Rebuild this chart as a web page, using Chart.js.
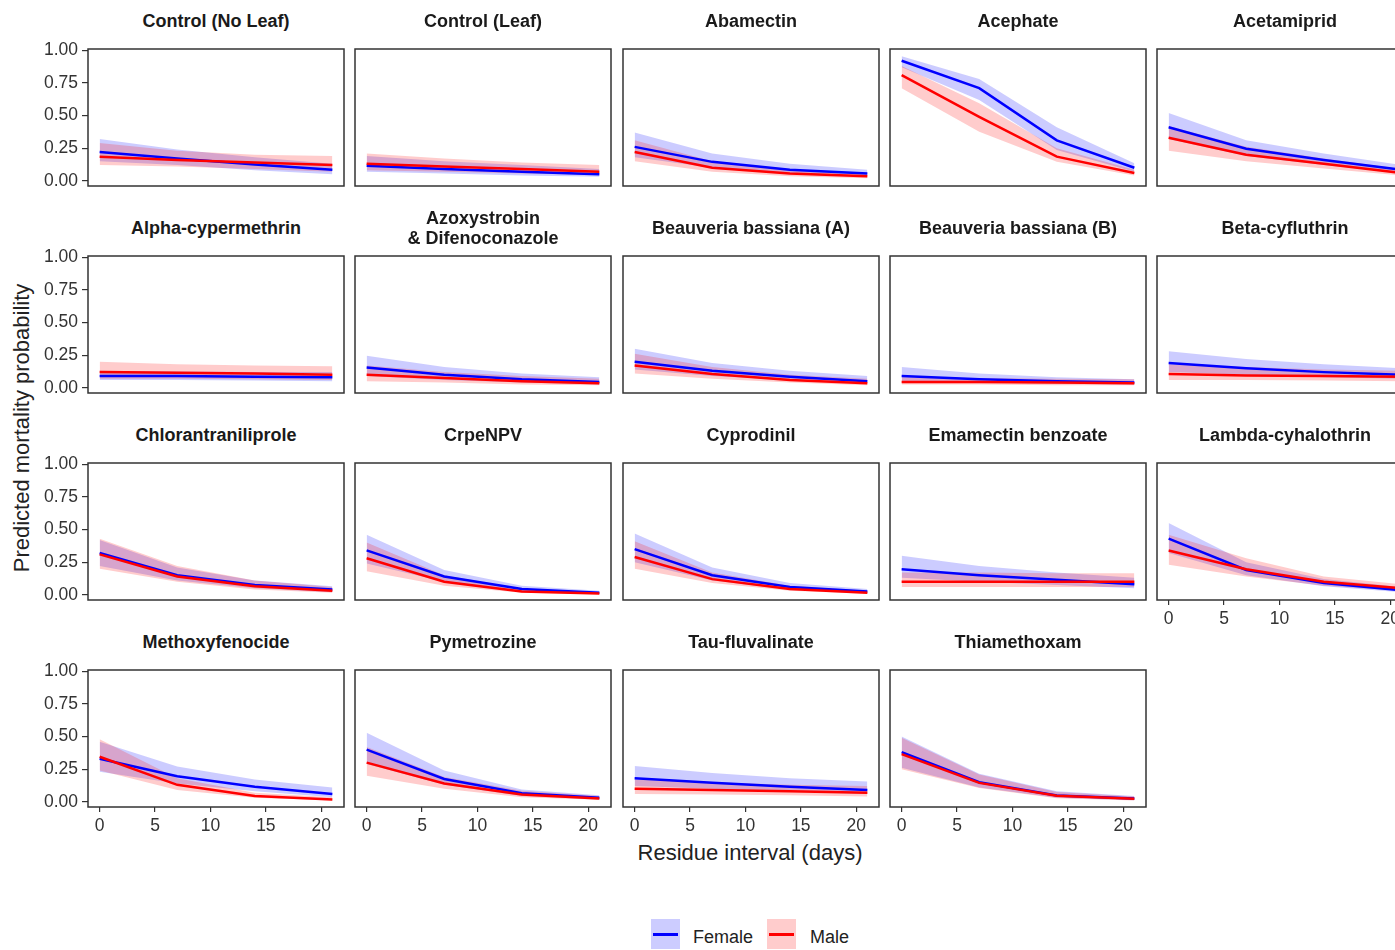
<!DOCTYPE html>
<html lang="en">
<head>
  <meta charset="UTF-8">
  <title>Predicted mortality by residue interval</title>
  <script src="https://cdn.jsdelivr.net/npm/chart.js"></script>
  <style>
    body {
      margin: 0;
      width: 1395px;
      height: 950px;
      overflow: hidden;
      position: relative;
      background: #fff;
      font-family: 'Liberation Sans', Arial, sans-serif;
      color: #1a1a1a;
    }
    .panel { position: absolute; }
    .strip {
      position: absolute;
      width: 256px;
      height: 40px;
      display: flex;
      align-items: center;
      justify-content: center;
      text-align: center;
      white-space: pre-line;
      font-weight: bold;
      font-size: 18px;
      line-height: 20px;
      color: #1a1a1a;
    }
    .axis-title {
      position: absolute;
      font-size: 22px;
      white-space: nowrap;
      color: #222;
      transform: translate(-50%, -50%);
    }
    #yTitle { left: 22px; top: 428px; transform: translate(-50%, -50%) rotate(-90deg); }
    #xTitle { left: 750px; top: 853px; }
    .key {
      position: absolute;
      top: 919px;
      width: 29px;
      height: 30px;
    }
    .key span {
      position: absolute;
      left: 2px;
      right: 2px;
      top: 14px;
      height: 3px;
    }
    .key-label {
      position: absolute;
      top: 926px;
      font-size: 18px;
      line-height: 22px;
      color: #222;
    }
  </style>
</head>
<body>
  <div id="yTitle" class="axis-title">Predicted mortality probability</div>
  <div id="xTitle" class="axis-title">Residue interval (days)</div>

  <div class="key" style="left:651px; background:#ccccff;"><span style="background:#0000ff;"></span></div>
  <div class="key-label" style="left:693px;">Female</div>
  <div class="key" style="left:767px; background:#ffcccc;"><span style="background:#ff0000;"></span></div>
  <div class="key-label" style="left:810px;">Male</div>

  <script>
    // treatments, one facet each (read left to right, top to bottom)
    const panelNames = [
      'Control (No Leaf)', 'Control (Leaf)', 'Abamectin', 'Acephate', 'Acetamiprid',
      'Alpha-cypermethrin', 'Azoxystrobin\n& Difenoconazole', 'Beauveria bassiana (A)', 'Beauveria bassiana (B)', 'Beta-cyfluthrin',
      'Chlorantraniliprole', 'CrpeNPV', 'Cyprodinil', 'Emamectin benzoate', 'Lambda-cyhalothrin',
      'Methoxyfenocide', 'Pymetrozine', 'Tau-fluvalinate', 'Thiamethoxam'
    ];
    const days = [0, 7, 14, 21];
    const xTicks = [0, 5, 10, 15, 20];
    const yTicks = [0, 0.25, 0.5, 0.75, 1];

    const femaleFit = [
      [0.22, 0.17, 0.125, 0.085], [0.115, 0.09, 0.07, 0.05], [0.26, 0.145, 0.085, 0.055], [0.92, 0.71, 0.31, 0.10], [0.41, 0.245, 0.16, 0.085],
      [0.09, 0.09, 0.085, 0.08], [0.155, 0.10, 0.065, 0.045], [0.20, 0.13, 0.085, 0.05], [0.09, 0.065, 0.05, 0.04], [0.19, 0.15, 0.12, 0.10],
      [0.32, 0.15, 0.075, 0.04], [0.34, 0.14, 0.045, 0.015], [0.35, 0.15, 0.06, 0.025], [0.195, 0.15, 0.115, 0.08], [0.43, 0.19, 0.09, 0.035],
      [0.33, 0.195, 0.115, 0.06], [0.40, 0.175, 0.065, 0.03], [0.18, 0.145, 0.115, 0.09], [0.38, 0.15, 0.048, 0.025]
    ];
    const femaleLow = [
      [0.15, 0.12, 0.08, 0.05], [0.07, 0.055, 0.04, 0.03], [0.18, 0.10, 0.06, 0.035], [0.87, 0.62, 0.235, 0.07], [0.32, 0.19, 0.12, 0.06],
      [0.06, 0.06, 0.055, 0.05], [0.09, 0.06, 0.04, 0.025], [0.14, 0.09, 0.06, 0.035], [0.05, 0.04, 0.03, 0.025], [0.12, 0.10, 0.08, 0.07],
      [0.22, 0.11, 0.05, 0.02], [0.24, 0.10, 0.03, 0.008], [0.25, 0.11, 0.04, 0.015], [0.13, 0.10, 0.075, 0.05], [0.32, 0.15, 0.065, 0.02],
      [0.23, 0.14, 0.08, 0.035], [0.29, 0.13, 0.045, 0.018], [0.12, 0.10, 0.08, 0.06], [0.26, 0.11, 0.03, 0.012]
    ];
    const femaleHigh = [
      [0.32, 0.24, 0.18, 0.13], [0.19, 0.15, 0.12, 0.09], [0.37, 0.21, 0.13, 0.085], [0.955, 0.78, 0.41, 0.135], [0.52, 0.31, 0.21, 0.12],
      [0.13, 0.125, 0.12, 0.12], [0.245, 0.16, 0.11, 0.08], [0.30, 0.19, 0.13, 0.09], [0.16, 0.11, 0.08, 0.065], [0.28, 0.22, 0.18, 0.15],
      [0.42, 0.21, 0.11, 0.065], [0.46, 0.19, 0.07, 0.03], [0.47, 0.21, 0.09, 0.045], [0.30, 0.22, 0.17, 0.13], [0.55, 0.25, 0.12, 0.06],
      [0.46, 0.27, 0.17, 0.11], [0.53, 0.24, 0.095, 0.05], [0.275, 0.22, 0.18, 0.155], [0.50, 0.215, 0.08, 0.045]
    ];
    const maleFit = [
      [0.185, 0.16, 0.14, 0.12], [0.13, 0.11, 0.09, 0.07], [0.22, 0.10, 0.055, 0.035], [0.81, 0.49, 0.185, 0.06], [0.33, 0.20, 0.13, 0.06],
      [0.12, 0.115, 0.11, 0.10], [0.10, 0.075, 0.05, 0.035], [0.17, 0.105, 0.06, 0.035], [0.045, 0.045, 0.04, 0.035], [0.105, 0.095, 0.09, 0.085],
      [0.31, 0.14, 0.065, 0.03], [0.28, 0.10, 0.025, 0.01], [0.29, 0.12, 0.045, 0.015], [0.10, 0.10, 0.10, 0.10], [0.34, 0.195, 0.10, 0.05],
      [0.345, 0.13, 0.045, 0.018], [0.30, 0.14, 0.055, 0.025], [0.10, 0.09, 0.08, 0.07], [0.365, 0.145, 0.046, 0.024]
    ];
    const maleLow = [
      [0.12, 0.11, 0.09, 0.07], [0.08, 0.07, 0.055, 0.045], [0.15, 0.07, 0.035, 0.02], [0.71, 0.375, 0.145, 0.04], [0.23, 0.15, 0.095, 0.04],
      [0.07, 0.07, 0.065, 0.06], [0.05, 0.04, 0.025, 0.02], [0.11, 0.07, 0.04, 0.02], [0.025, 0.025, 0.02, 0.02], [0.06, 0.06, 0.055, 0.05],
      [0.20, 0.10, 0.04, 0.015], [0.18, 0.07, 0.015, 0.004], [0.20, 0.09, 0.03, 0.008], [0.06, 0.06, 0.06, 0.06], [0.23, 0.14, 0.07, 0.03],
      [0.24, 0.09, 0.03, 0.01], [0.20, 0.10, 0.035, 0.015], [0.06, 0.055, 0.05, 0.04], [0.25, 0.105, 0.028, 0.01]
    ];
    const maleHigh = [
      [0.29, 0.23, 0.20, 0.19], [0.21, 0.17, 0.14, 0.12], [0.31, 0.15, 0.085, 0.06], [0.88, 0.595, 0.25, 0.085], [0.42, 0.26, 0.17, 0.09],
      [0.20, 0.18, 0.17, 0.165], [0.17, 0.12, 0.09, 0.07], [0.26, 0.16, 0.10, 0.07], [0.08, 0.075, 0.07, 0.065], [0.18, 0.16, 0.14, 0.13],
      [0.43, 0.22, 0.11, 0.06], [0.40, 0.15, 0.045, 0.02], [0.41, 0.17, 0.07, 0.03], [0.17, 0.17, 0.165, 0.165], [0.46, 0.28, 0.14, 0.08],
      [0.48, 0.18, 0.07, 0.035], [0.42, 0.19, 0.085, 0.045], [0.17, 0.15, 0.13, 0.12], [0.49, 0.21, 0.075, 0.04]
    ];

    const NCOL = 5;
    const PANEL_W = 256, PANEL_H = 137;
    const PAD = 16, Y_AXIS_W = 48, X_AXIS_H = 30;
    const tickFont = { family: "'Liberation Sans', Arial, sans-serif", size: 17.5 };

    // black frame round each panel, drawn over the data like panel.border
    const panelBox = {
      id: 'panelBox',
      afterDatasetsDraw(chart) {
        const a = chart.chartArea;
        const ctx = chart.ctx;
        ctx.save();
        ctx.strokeStyle = '#333';
        ctx.lineWidth = 1.5;
        ctx.strokeRect(a.left, a.top, a.right - a.left, a.bottom - a.top);
        ctx.restore();
      }
    };

    function points(values) {
      return days.map((d, i) => ({ x: d, y: values[i] }));
    }

    function ribbon(values, fill, color, order) {
      return {
        data: points(values), fill: fill, backgroundColor: color,
        borderWidth: 0, pointRadius: 0, order: order
      };
    }

    function line(values, color, order) {
      return {
        data: points(values), fill: false, borderColor: color,
        borderWidth: 2.5, pointRadius: 0, order: order
      };
    }

    panelNames.forEach((name, i) => {
      const row = Math.floor(i / NCOL), col = i % NCOL;
      const panelLeft = Math.round(88 + col * 267.25);
      const panelTop = 49 + row * 207;
      const showY = col === 0;
      const showX = row === 3 || (row === 2 && col === 4);
      const yw = showY ? Y_AXIS_W : 0;
      const xh = showX ? X_AXIS_H : 0;

      const strip = document.createElement('div');
      strip.className = 'strip';
      strip.style.left = panelLeft + 'px';
      strip.style.top = (panelTop - 48) + 'px';
      strip.textContent = name;
      document.body.appendChild(strip);

      const wrap = document.createElement('div');
      wrap.className = 'panel';
      wrap.style.left = (panelLeft - yw - PAD) + 'px';
      wrap.style.top = (panelTop - PAD) + 'px';
      const canvas = document.createElement('canvas');
      canvas.width = PANEL_W + yw + 2 * PAD;
      canvas.height = PANEL_H + xh + 2 * PAD;
      wrap.appendChild(canvas);
      document.body.appendChild(wrap);

      new Chart(canvas.getContext('2d'), {
        type: 'line',
        data: {
          datasets: [
            line(maleFit[i], '#ff0000', 0),
            line(femaleFit[i], '#0000ff', 1),
            ribbon(maleHigh[i], '+1', 'rgba(255,0,0,0.2)', 2),
            ribbon(maleLow[i], false, 'rgba(255,0,0,0.2)', 3),
            ribbon(femaleHigh[i], '+1', 'rgba(0,0,255,0.2)', 4),
            ribbon(femaleLow[i], false, 'rgba(0,0,255,0.2)', 5)
          ]
        },
        options: {
          responsive: false,
          animation: false,
          devicePixelRatio: 1,
          layout: { padding: PAD },
          plugins: { legend: { display: false }, tooltip: { enabled: false } },
          elements: { line: { tension: 0 } },
          scales: {
            x: {
              type: 'linear',
              display: showX,
              min: -1.05,
              max: 22.05,
              afterBuildTicks: s => { s.ticks = xTicks.map(v => ({ value: v })); },
              afterFit: s => { s.height = xh; },
              grid: { drawOnChartArea: false, drawTicks: true, tickLength: 5, color: '#333', lineWidth: 1.2 },
              border: { display: false },
              ticks: { padding: 4, font: tickFont, color: '#333', maxRotation: 0 }
            },
            y: {
              type: 'linear',
              display: showY,
              min: -0.04,
              max: 1.01,
              afterBuildTicks: s => { s.ticks = yTicks.map(v => ({ value: v })); },
              afterFit: s => { s.width = yw; },
              grid: { drawOnChartArea: false, drawTicks: true, tickLength: 6, color: '#333', lineWidth: 1.2 },
              border: { display: false },
              ticks: { padding: 4, font: tickFont, color: '#333', callback: v => v.toFixed(2) }
            }
          }
        },
        plugins: [panelBox]
      });
    });
  </script>
</body>
</html>
